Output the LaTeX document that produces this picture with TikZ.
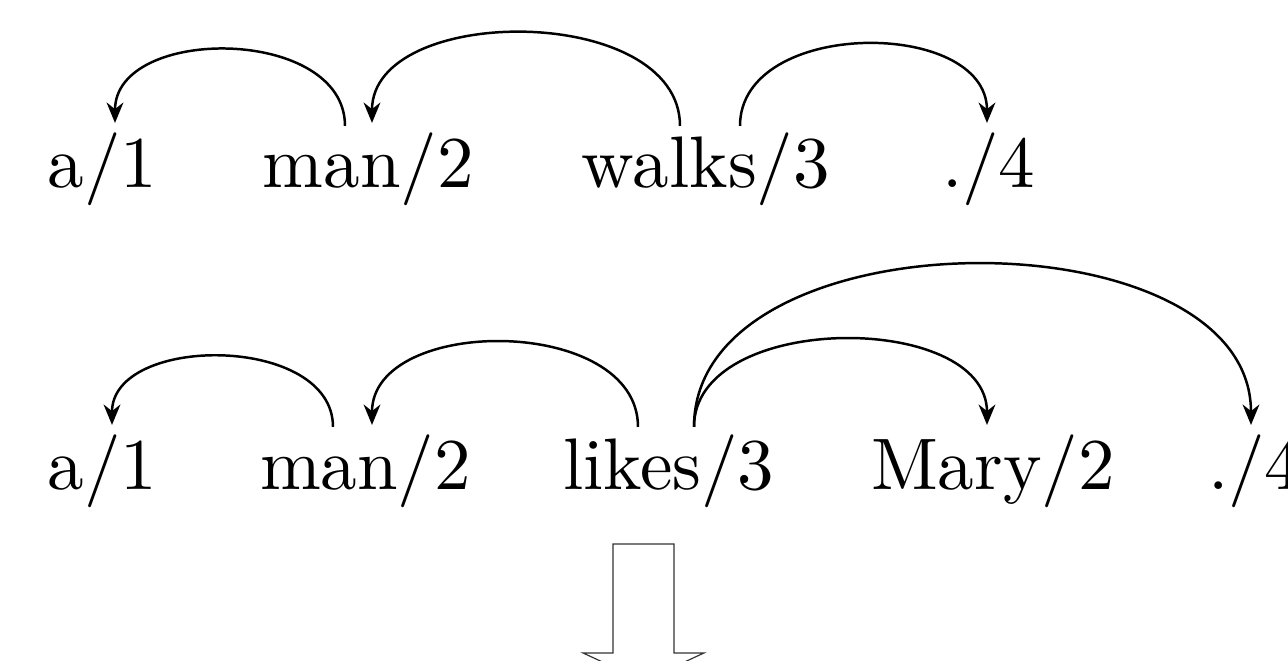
\documentclass[tikz,border=0pt]{standalone}
\usetikzlibrary{arrows.meta,calc}
\begin{document}
\begin{tikzpicture}[x=0.137pt,y=-0.137pt,
  word/.style={anchor=base west,inner sep=0pt,outer sep=0pt},
  dep/.style={line width=0.34pt,-{Stealth[length=2.8pt,width=2.3pt,inset=0.9pt]}},
  bigarrow/.style={draw=black!80,line width=0.16pt,fill=white}]
\useasboundingbox (0,0) rectangle (1288,661);
\clip (0,0) rectangle (1288,661);
% row 1
\node[word] (a1) at (48,188) {a/1};
\node[word] (m1) at (263,188) {man/2};
\node[word] (w1) at (582,188) {walks/3};
\node[word] (p1) at (942,188) {./4};
\draw[dep] ($(m1.base west)+(82,-62)$) .. controls +(0,-100) and +(0,-98) .. ($(a1.base west)+(67,-65)$);
\draw[dep] ($(w1.base west)+(98,-62)$) .. controls +(0,-123) and +(0,-120) .. ($(m1.base west)+(109,-65)$);
\draw[dep] ($(w1.base west)+(158,-62)$) .. controls +(0,-108) and +(0,-105) .. ($(p1.base west)+(45,-65)$);
% row 2
\node[word] (a2) at (48,490) {a/1};
\node[word] (m2) at (260,490) {man/2};
\node[word] (l2) at (563,490) {likes/3};
\node[word] (y2) at (871,490) {Mary/2};
\node[word] (p2) at (1208,490) {./4};
\draw[dep] ($(m2.base west)+(73,-63)$) .. controls +(0,-93) and +(0,-91) .. ($(a2.base west)+(64,-65)$);
\draw[dep] ($(l2.base west)+(75,-63)$) .. controls +(0,-112) and +(0,-110) .. ($(m2.base west)+(112,-65)$);
\draw[dep] ($(l2.base west)+(131,-63)$) .. controls +(0,-116) and +(0,-114) .. ($(y2.base west)+(116,-65)$);
\draw[dep] ($(l2.base west)+(131,-63)$) .. controls +(0,-216) and +(0,-214) .. ($(p2.base west)+(43,-65)$);
% transformation arrow
\path[bigarrow] (613,544) -- (674,544) -- (674,653) -- (704,653) -- (643.5,681) -- (583,653) -- (613,653) -- cycle;
\end{tikzpicture}
\end{document}
